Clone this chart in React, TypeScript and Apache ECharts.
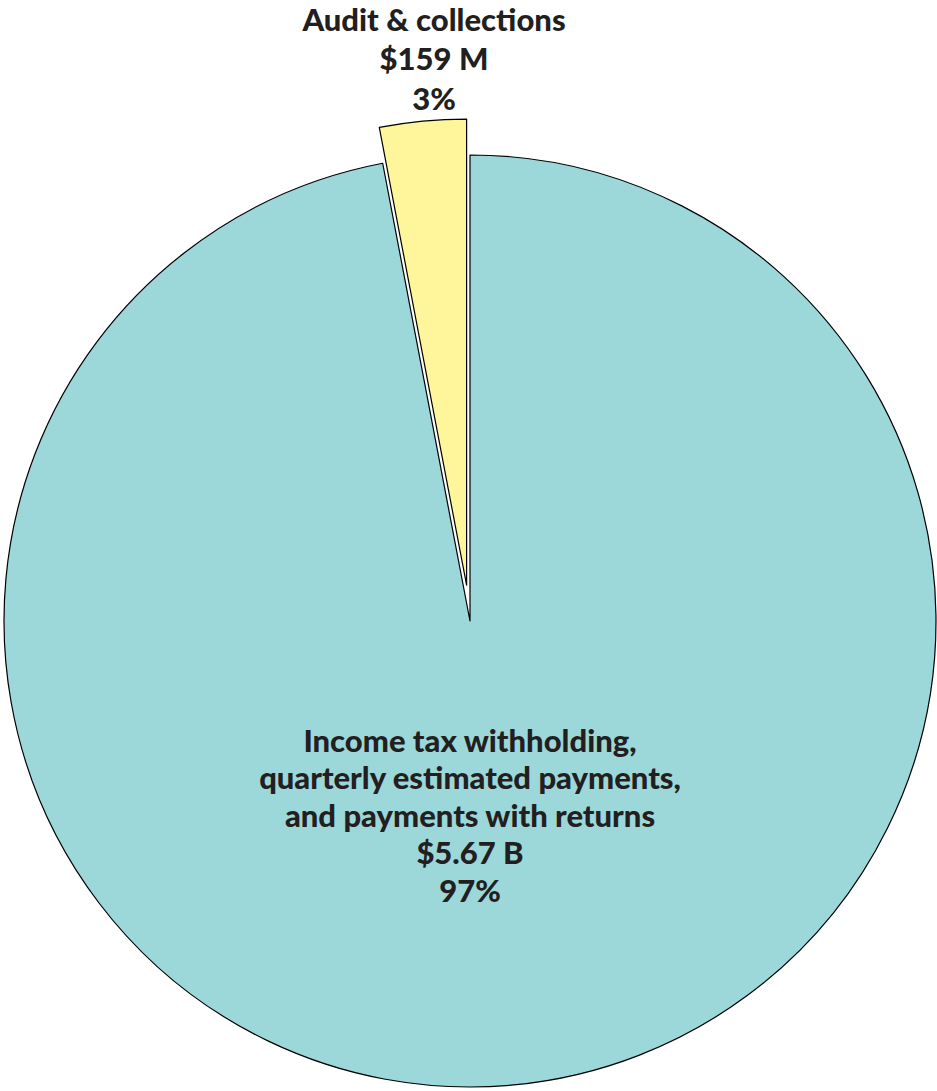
import React, { useEffect, useRef } from "react";
import * as echarts from "echarts";

const categories = [
  "Income tax withholding,\nquarterly estimated payments,\nand payments with returns",
  "Audit & collections",
];
const amounts = ["$5.67 B", "$159 M"];
const percents = [97, 3];
const colors = ["#9cd8da", "#fff59b"];

export default function App() {
  const ref = useRef<HTMLDivElement>(null);
  useEffect(() => {
    const chart = echarts.init(ref.current!, null, { renderer: "svg" });
    const font = "Lato, 'Open Sans', sans-serif";
    chart.setOption({
      animation: false,
      backgroundColor: "#ffffff",
      series: [
        {
          type: "pie",
          center: [470, 621],
          radius: [0, 466],
          startAngle: 90,
          clockwise: true,
          selectedMode: "single",
          selectedOffset: 36,
          silent: true,
          label: { show: false },
          labelLine: { show: false },
          itemStyle: { borderColor: "#000000", borderWidth: 1.2 },
          emphasis: { disabled: true },
          data: categories.map((c, i) => ({
            name: c,
            value: percents[i],
            selected: i === 1,
            itemStyle: { color: colors[i] },
          })),
        },
      ],
      graphic: [
        {
          type: "text",
          x: 434,
          y: -1,
          z: 100,
          style: {
            text: `${categories[1]}\n${amounts[1]}\n${percents[1]}%`,
            font: `900 31px ${font}`,
            fill: "#231f20",
            align: "center",
            verticalAlign: "top",
            lineHeight: 39.5,
          },
        },
        {
          type: "text",
          x: 470,
          y: 721,
          z: 100,
          style: {
            text: `${categories[0]}\n${amounts[0]}\n${percents[0]}%`,
            font: `900 31px ${font}`,
            fill: "#231f20",
            align: "center",
            verticalAlign: "top",
            lineHeight: 37.5,
          },
        },
      ],
    });
    return () => chart.dispose();
  }, []);
  return (
    <div
      ref={ref}
      style={{ position: "fixed", left: 0, top: 0, width: 937, height: 1091 }}
    />
  );
}
